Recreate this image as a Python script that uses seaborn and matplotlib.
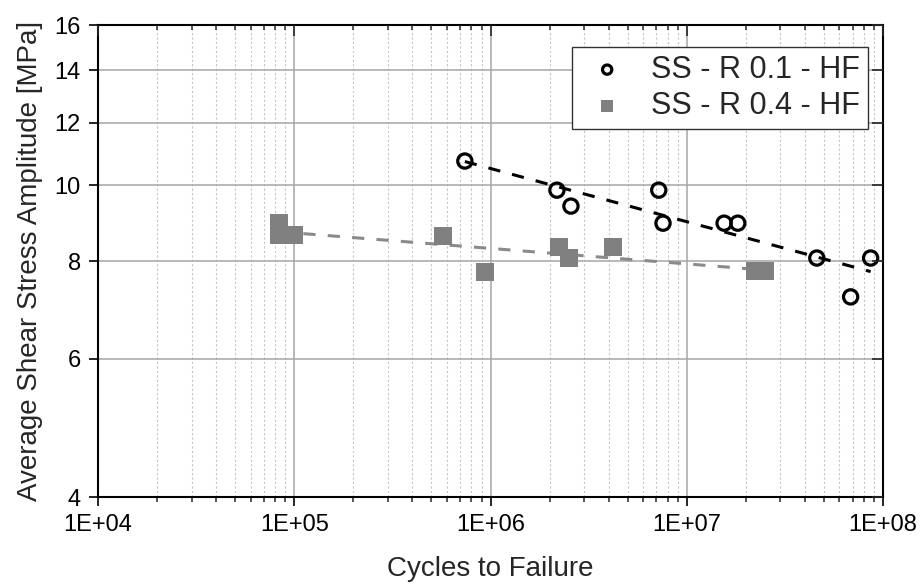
import numpy as np
import pandas as pd
import matplotlib
matplotlib.use("Agg")
import matplotlib.pyplot as plt
import seaborn as sns
from matplotlib.ticker import FixedLocator, NullLocator, FuncFormatter, LogLocator

# Data
r01_cycles = [7.4e5, 2.18e6, 2.57e6, 7.2e6, 7.57e6, 1.55e7, 1.82e7, 4.6e7, 6.84e7, 8.65e7]
r01_stress = [10.73, 9.85, 9.40, 9.85, 8.94, 8.94, 8.94, 8.07, 7.20, 8.07]
r04_cycles = [8.36e4, 8.4e4, 9.97e4, 5.71e5, 9.41e5, 2.23e6, 2.52e6, 4.23e6, 2.23e7, 2.50e7]
r04_stress = [8.94, 8.63, 8.63, 8.61, 7.75, 8.34, 8.07, 8.34, 7.77, 7.77]
labels = ["SS - R 0.1 - HF", "SS - R 0.4 - HF"]
y_ticks = [4, 6, 8, 10, 12, 14, 16]
x_label = "Cycles to Failure"
y_label = "Average Shear Stress Amplitude [MPa]"

sns.set_style("white")
plt.rcParams["font.family"] = ["Liberation Sans", "DejaVu Sans"]

fig = plt.figure(figsize=(9.21, 5.85), dpi=100)
ax = fig.add_axes([98/921, 1-497/585, (883-98)/921, (497-25)/585])

df1 = pd.DataFrame({"N": r01_cycles, "S": r01_stress})
df2 = pd.DataFrame({"N": r04_cycles, "S": r04_stress})

def power_fit(x, y):
    lx, ly = np.log10(x), np.log10(y)
    b, a = np.polyfit(lx, ly, 1)
    xs = np.array([min(x), max(x)])
    return pd.DataFrame({"N": xs, "S": 10 ** (a + b * np.log10(xs))})

ax.set_xscale("log")
ax.set_yscale("log")

f1 = power_fit(r01_cycles, r01_stress)
f2 = power_fit(r04_cycles, r04_stress)
sns.lineplot(data=f2, x="N", y="S", ax=ax, color="#8a8a8a", lw=2.2,
             linestyle=(0, (4, 4)), zorder=3)
sns.lineplot(data=f1, x="N", y="S", ax=ax, color="black", lw=2.2,
             linestyle=(0, (4, 4)), zorder=3)

sns.scatterplot(data=df2, x="N", y="S", ax=ax, marker="s", s=160,
                color="#808080", edgecolor="#808080", linewidth=0, zorder=4,
                label=labels[1])
sns.scatterplot(data=df1, x="N", y="S", ax=ax, marker="o", s=105,
                facecolor="none", edgecolor="black", linewidth=2.3, zorder=5,
                label=labels[0])

ax.set_xlim(1e4, 1e8)
ax.set_ylim(4, 16)

ax.yaxis.set_major_locator(FixedLocator(y_ticks))
ax.yaxis.set_minor_locator(NullLocator())
ax.yaxis.set_major_formatter(FuncFormatter(lambda v, p: f"{v:g}"))
ax.xaxis.set_major_locator(LogLocator(base=10, numticks=10))
ax.xaxis.set_minor_locator(LogLocator(base=10, subs=np.arange(2, 10), numticks=20))
ax.xaxis.set_major_formatter(FuncFormatter(lambda v, p: f"{v:.0E}"))

ax.grid(True, which="major", axis="both", color="#a6a6a6", lw=1.1, ls="-")
ax.grid(True, which="minor", axis="x", color="#c4c4c4", lw=0.8, ls=(0, (2, 2)))
ax.set_axisbelow(True)

ax.tick_params(axis="both", which="major", direction="out", length=6.5, width=1.2,
               labelsize=17, colors="black", pad=6)
ax.tick_params(axis="x", which="minor", direction="out", length=3.5, width=1.1)
for sp in ax.spines.values():
    sp.set_visible(True)
    sp.set_color("black")
    sp.set_linewidth(1.5)

ax.set_xlabel(x_label, fontsize=20, labelpad=14)
ax.set_ylabel(y_label, fontsize=20, labelpad=8)

# mirrored inward ticks on top and right
axt = ax.twiny()
axt.set_xscale("log")
axt.set_xlim(ax.get_xlim())
axt.xaxis.set_major_locator(LogLocator(base=10, numticks=10))
axt.xaxis.set_minor_locator(LogLocator(base=10, subs=np.arange(2, 10), numticks=20))
axt.tick_params(axis="x", which="major", direction="in", length=8, width=1.2, labeltop=False)
axt.tick_params(axis="x", which="minor", direction="in", length=3.5, width=1.1, labeltop=False)
axr = ax.twinx()
axr.set_yscale("log")
axr.set_ylim(ax.get_ylim())
axr.yaxis.set_major_locator(FixedLocator(y_ticks))
axr.yaxis.set_minor_locator(NullLocator())
axr.tick_params(axis="y", which="major", direction="in", length=8, width=1.2, labelright=False)
for a in (axt, axr):
    a.grid(False)
    for sp in a.spines.values():
        sp.set_visible(False)

handles, labs = ax.get_legend_handles_labels()
order = [labs.index(labels[0]), labs.index(labels[1])]
leg = ax.legend([handles[i] for i in order], [labs[i] for i in order],
                loc="upper right", bbox_to_anchor=((868-98)/785, (497-47)/472),
                borderaxespad=0, fontsize=22, frameon=True, fancybox=False,
                edgecolor="#333333", framealpha=1, markerscale=0.65,
                handlelength=1.8, handletextpad=0.55, borderpad=0.25,
                labelspacing=0.22)
leg.get_frame().set_linewidth(1.0)
leg.set_zorder(10)

fig.savefig("out.png", dpi=100)
